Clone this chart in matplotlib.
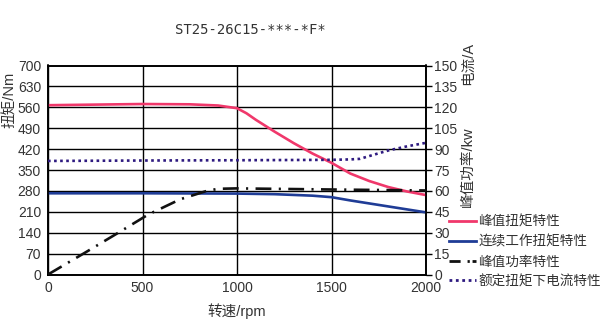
import matplotlib.pyplot as plt
from matplotlib.lines import Line2D

plt.rcParams['font.family'] = ['Liberation Sans', 'Noto Sans CJK SC']

# 峰值扭矩 (Nm)
speed_peak = [0, 250, 500, 750, 900, 1000, 1050, 1100, 1200, 1300, 1400, 1500, 1600, 1700, 1800, 1900, 2000]
torque_peak = [567, 569, 571, 570, 566, 557, 540, 518, 478, 440, 405, 374, 338, 313, 293, 278, 266]

# 连续工作扭矩 (Nm)
speed_cont = [0, 500, 1000, 1200, 1400, 1500, 1600, 1750, 1900, 2000]
torque_cont = [272, 272, 271, 269, 264, 259, 248, 233, 218, 208]

# 峰值功率 (kW)
speed_power = [0, 200, 360, 530, 700, 840, 900, 1000, 1500, 2000]
power_peak = [0, 16, 29, 43, 54, 60, 61.5, 61.8, 61, 60.3]

# 额定扭矩下电流 (A)
speed_cur = [0, 500, 1000, 1500, 1600, 1650, 1700, 1800, 1900, 2000]
current = [81.5, 81.8, 82, 82.3, 82.6, 83, 85, 89, 92, 94.5]

left_ticks = list(range(0, 701, 70))
right_ticks = list(range(0, 151, 15))
x_ticks = [0, 500, 1000, 1500, 2000]

txt = '#333333'
c_peak = '#f0386b'
c_cont = '#1f3c96'
c_power = '#111111'
c_cur = '#2e1a80'

fig = plt.figure(figsize=(6.13, 3.29), dpi=100)
ax = fig.add_axes([48 / 613, 1 - 274.5 / 329, 378 / 613, 209 / 329])
ax2 = ax.twinx()

ax.set_xlim(0, 2000)
ax.set_ylim(0, 700)
ax2.set_ylim(0, 150)
ax.set_xticks(x_ticks)
ax.set_yticks(left_ticks)
ax2.set_yticks(right_ticks)
ax.grid(True, color='black', linewidth=1.0)
ax.set_axisbelow(True)

for a in (ax, ax2):
    for s in a.spines.values():
        s.set_linewidth(1.2)
    a.tick_params(labelsize=10, labelcolor=txt, length=0, pad=5)
ax2.tick_params(axis='y', length=4, width=1, direction='out', pad=2)

ax.plot(speed_peak, torque_peak, color=c_peak, lw=1.9, zorder=3)
ax.plot(speed_cont, torque_cont, color=c_cont, lw=1.9, zorder=3)
ax2.plot(speed_power, power_peak, color=c_power, lw=1.9,
         dashes=(6, 2.8, 0.8, 2.8), zorder=3)
ax2.plot(speed_cur, current, color=c_cur, lw=1.9, dashes=(1, 1.3), zorder=3)

ax.set_xlabel('转速/rpm', fontsize=10.5, color=txt, labelpad=6)

fig.text(10 / 613, 1 - 100 / 329, '扭矩/Nm', rotation=90, ha='center', va='center',
         fontsize=10.5, color=txt)
fig.text(250 / 613, 1 - 30 / 329, 'ST25-26C15-***-*F*', ha='center', va='center',
         fontsize=10, color=txt, family='DejaVu Sans Mono')
fig.text(468 / 613, 1 - 63 / 329, '电流/A', rotation=90, ha='center', va='center',
         fontsize=10.5, color=txt)
fig.text(468 / 613, 1 - 167 / 329, '峰值功率/kw', rotation=90, ha='center', va='center',
         fontsize=10.5, color=txt)

handles = [
    Line2D([], [], color=c_peak, lw=2),
    Line2D([], [], color=c_cont, lw=2),
    Line2D([], [], color=c_power, lw=2, dashes=(4, 2.5, 0.8, 1)),
    Line2D([], [], color=c_cur, lw=2, dashes=(1, 1.3)),
]
labels = ['峰值扭矩特性', '连续工作扭矩特性', '峰值功率特性', '额定扭矩下电流特性']
leg = fig.legend(handles, labels, loc='upper left', bbox_to_anchor=(449 / 613, 1 - 215 / 329),
                 frameon=False, fontsize=9.8, handlelength=2.0, handletextpad=0.15,
                 labelspacing=0.42, borderpad=0, borderaxespad=0)
for t in leg.get_texts():
    t.set_color(txt)

fig.savefig('out.png', dpi=100)
